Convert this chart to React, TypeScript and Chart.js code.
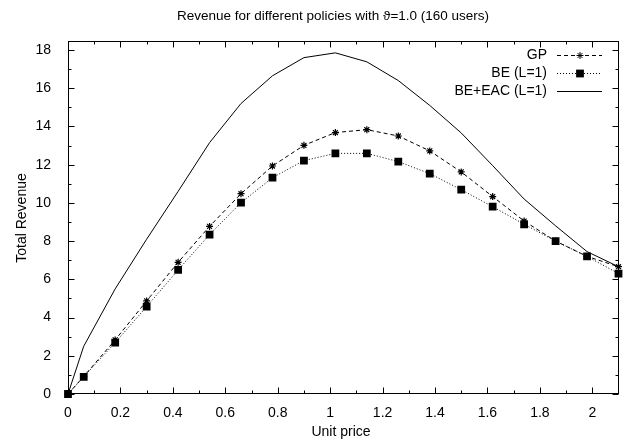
import React, { useEffect, useRef } from "react";
import { Chart, registerables } from "chart.js";

Chart.register(...registerables);

const TITLE = "Revenue for different policies with ϑ=1.0 (160 users)";
const X_LABEL = "Unit price";
const Y_LABEL = "Total Revenue";

const PRICES = [0, 0.06, 0.18, 0.3, 0.42, 0.54, 0.66, 0.78, 0.9, 1.02, 1.14, 1.26, 1.38, 1.5, 1.62, 1.74, 1.86, 1.98, 2.1];
const GP = [0, 0.92, 2.83, 4.87, 6.89, 8.77, 10.48, 11.93, 13.01, 13.68, 13.83, 13.5, 12.72, 11.62, 10.33, 9.05, 8.0, 7.2, 6.66];
const BE = [0, 0.9, 2.69, 4.57, 6.49, 8.34, 10.01, 11.32, 12.21, 12.59, 12.59, 12.16, 11.53, 10.69, 9.8, 8.88, 8.0, 7.2, 6.3];
const BE_EAC = [0, 2.5, 5.5, 8.1, 10.6, 13.15, 15.2, 16.65, 17.6, 17.85, 17.38, 16.4, 15.1, 13.66, 11.95, 10.2, 8.8, 7.45, 6.66];

const SERIES_NAMES = ["GP", "BE (L=1)", "BE+EAC (L=1)"];

const X_TICKS = [0, 0.2, 0.4, 0.6, 0.8, 1, 1.2, 1.4, 1.6, 1.8, 2];
const X_MINOR = [0.1, 0.3, 0.5, 0.7, 0.9, 1.1, 1.3, 1.5, 1.7, 1.9];
const Y_TICKS = [0, 2, 4, 6, 8, 10, 12, 14, 16, 18];
const Y_MINOR = [1, 3, 5, 7, 9, 11, 13, 15, 17];

const FONT = "'Liberation Sans', Arial, sans-serif";

const toPoints = (ys: number[]) => PRICES.map((x, i) => ({ x, y: ys[i] }));

function drawMarker(ctx: CanvasRenderingContext2D, style: string, r: number, x: number, y: number) {
  ctx.save();
  ctx.setLineDash([]);
  ctx.strokeStyle = "#000";
  ctx.fillStyle = "#000";
  ctx.lineWidth = 1;
  if (style === "rect") {
    const s = Math.SQRT1_2 * r;
    ctx.fillRect(x - s, y - s, 2 * s, 2 * s);
  } else if (style === "star") {
    ctx.beginPath();
    ctx.moveTo(x - r, y); ctx.lineTo(x + r, y);
    ctx.moveTo(x, y - r); ctx.lineTo(x, y + r);
    const d = r * Math.SQRT1_2;
    ctx.moveTo(x - d, y - d); ctx.lineTo(x + d, y + d);
    ctx.moveTo(x - d, y + d); ctx.lineTo(x + d, y - d);
    ctx.stroke();
  }
  ctx.restore();
}

export default function App() {
  const ref = useRef<HTMLCanvasElement | null>(null);

  useEffect(() => {
    const canvas = ref.current;
    if (!canvas) return;

    const framePlugin = {
      id: "framePlugin",
      afterDatasetsDraw(chart: any) {
        const { ctx, chartArea } = chart;
        const xs = chart.scales.x;
        const ys = chart.scales.y;
        const L = Math.round(chartArea.left) + 0.5;
        const R = Math.round(chartArea.right) - 0.5;
        const T = Math.round(chartArea.top) + 0.5;
        const B = Math.round(chartArea.bottom) - 0.5;
        ctx.save();
        ctx.strokeStyle = "#000";
        ctx.lineWidth = 1;
        ctx.setLineDash([]);
        ctx.strokeRect(L, T, R - L, B - T);
        ctx.beginPath();
        const major = 6;
        const minor = 3;
        X_TICKS.forEach((v) => {
          const px = Math.round(xs.getPixelForValue(v)) + 0.5;
          ctx.moveTo(px, B); ctx.lineTo(px, B - major);
          ctx.moveTo(px, T); ctx.lineTo(px, T + major);
        });
        X_MINOR.forEach((v) => {
          const px = Math.round(xs.getPixelForValue(v)) + 0.5;
          ctx.moveTo(px, B); ctx.lineTo(px, B - minor);
          ctx.moveTo(px, T); ctx.lineTo(px, T + minor);
        });
        Y_TICKS.forEach((v) => {
          const py = Math.round(ys.getPixelForValue(v)) + 0.5;
          ctx.moveTo(L, py); ctx.lineTo(L + major, py);
          ctx.moveTo(R, py); ctx.lineTo(R - major, py);
        });
        Y_MINOR.forEach((v) => {
          const py = Math.round(ys.getPixelForValue(v)) + 0.5;
          ctx.moveTo(L, py); ctx.lineTo(L + minor, py);
          ctx.moveTo(R, py); ctx.lineTo(R - minor, py);
        });
        ctx.stroke();

        ctx.fillStyle = "#000";
        ctx.textAlign = "center";
        ctx.textBaseline = "middle";
        ctx.font = `13.5px ${FONT}`;
        ctx.fillText(TITLE, 333, 16);
        ctx.font = `14px ${FONT}`;
        ctx.fillText(X_LABEL, 341, 432);
        ctx.save();
        ctx.translate(22, 218);
        ctx.rotate(-Math.PI / 2);
        ctx.fillText(Y_LABEL, 0, 0);
        ctx.restore();

        const rows = [55, 73, 91];
        ctx.textAlign = "right";
        chart.data.datasets.forEach((ds: any, i: number) => {
          const y = rows[i];
          ctx.fillStyle = "#000";
          ctx.fillText(ds.label, 547, y);
          ctx.beginPath();
          ctx.setLineDash(ds.borderDash || []);
          ctx.strokeStyle = "#000";
          ctx.lineWidth = 1;
          ctx.moveTo(557, y + 0.5);
          ctx.lineTo(602, y + 0.5);
          ctx.stroke();
          ctx.setLineDash([]);
          if (ds.pointRadius > 0) drawMarker(ctx, ds.pointStyle, ds.pointRadius, 580, y + 0.5);
        });
        ctx.restore();
      },
    };

    const chart = new Chart(canvas, {
      type: "line",
      data: {
        datasets: [
          {
            label: SERIES_NAMES[0],
            data: toPoints(GP),
            borderColor: "#000",
            backgroundColor: "#000",
            borderWidth: 1,
            borderDash: [4, 3],
            pointStyle: "star",
            pointRadius: 3.5,
            pointBorderWidth: 1.2,
            pointBorderColor: "#000",
            tension: 0,
            order: 3,
            clip: 8,
          } as any,
          {
            label: SERIES_NAMES[1],
            data: toPoints(BE),
            borderColor: "#000",
            backgroundColor: "#000",
            borderWidth: 1,
            borderDash: [1, 2],
            pointStyle: "rect",
            pointRadius: 5.5,
            pointBorderWidth: 0,
            pointBackgroundColor: "#000",
            tension: 0,
            order: 2,
            clip: 8,
          } as any,
          {
            label: SERIES_NAMES[2],
            data: toPoints(BE_EAC),
            borderColor: "#000",
            backgroundColor: "#000",
            borderWidth: 1,
            pointRadius: 0,
            tension: 0,
            order: 1,
            clip: 8,
          } as any,
        ],
      },
      options: {
        animation: false,
        responsive: false,
        maintainAspectRatio: false,
        layout: { padding: { left: 0, top: 41, right: 4, bottom: 0 } },
        plugins: {
          legend: { display: false },
          title: { display: false },
          tooltip: { enabled: false },
        },
        scales: {
          x: {
            type: "linear",
            min: 0,
            max: 2.1,
            grid: { display: false },
            border: { display: false },
            afterBuildTicks: (s: any) => { s.ticks = X_TICKS.map((v) => ({ value: v })); },
            afterFit: (s: any) => { s.height = 50; },
            ticks: {
              color: "#000",
              font: { family: FONT, size: 14 },
              padding: 3,
              maxRotation: 0,
              autoSkip: false,
              callback: (v: any) => String(Math.round(Number(v) * 10) / 10),
            },
          },
          y: {
            type: "linear",
            min: 0,
            max: 18.47,
            grid: { display: false },
            border: { display: false },
            afterBuildTicks: (s: any) => { s.ticks = Y_TICKS.map((v) => ({ value: v })); },
            afterFit: (s: any) => { s.width = 68; },
            ticks: {
              color: "#000",
              font: { family: FONT, size: 14 },
              padding: 9,
              autoSkip: false,
              callback: (v: any) => String(v),
            },
          },
        },
      },
      plugins: [framePlugin],
    });

    return () => chart.destroy();
  }, []);

  return (
    <div style={{ position: "fixed", left: 0, top: 0, width: 624, height: 444, background: "#fff" }}>
      <canvas ref={ref} width={624} height={444} style={{ width: 624, height: 444, display: "block" }} />
    </div>
  );
}
